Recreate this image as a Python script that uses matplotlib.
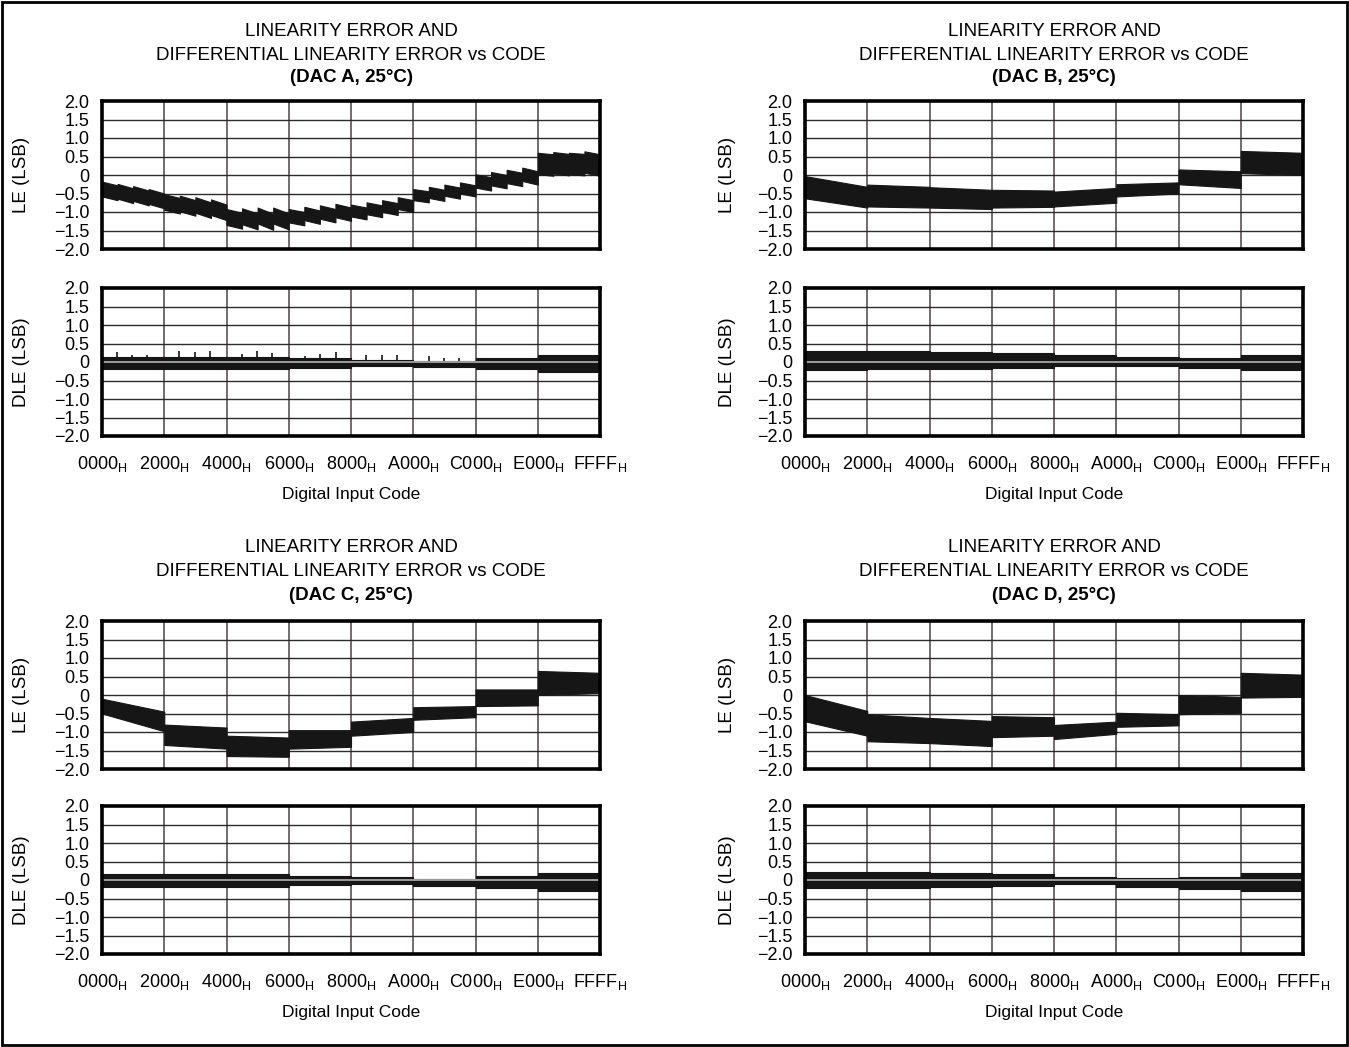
"""Linearity error / DLE vs code for four DAC channels, datasheet style."""

import matplotlib

matplotlib.use("Agg")

import matplotlib.pyplot as plt  # noqa: E402
from matplotlib.patches import Rectangle  # noqa: E402

plt.rcParams["font.family"] = ["Liberation Sans", "DejaVu Sans"]
plt.rcParams["mathtext.default"] = "regular"
NARROW = ["Liberation Sans Narrow", "Liberation Sans", "DejaVu Sans"]

# code segments (each 0x2000 wide); bands jump at the segment edges
SEG_STARTS = [0x0000, 0x2000, 0x4000, 0x6000, 0x8000, 0xA000, 0xC000, 0xE000]
SEG_ENDS = [0x2000, 0x4000, 0x6000, 0x8000, 0xA000, 0xC000, 0xE000, 0xFFFF]

X_TICKS = [0x0000, 0x2000, 0x4000, 0x6000, 0x8000, 0xA000, 0xC000, 0xE000, 0xFFFF]
X_TICK_LABELS = ["0000", "2000", "4000", "6000", "8000", "A000", "C000", "E000", "FFFF"]
Y_TICKS = [-2.0, -1.5, -1.0, -0.5, 0.0, 0.5, 1.0, 1.5, 2.0]
Y_TICK_LABELS = ["\u22122.0", "\u22121.5", "\u22121.0", "\u22120.5", "0", "0.5", "1.0", "1.5", "2.0"]

DACS = ["A", "B", "C", "D"]

# DAC A LE shows a mild sawtooth: four teeth per segment (0x800 each)
A_TOOTH_STARTS = [0x800 * i for i in range(32)]
A_TOOTH_ENDS = [0x800 * (i + 1) for i in range(31)] + [0xFFFF]
A_TOOTH_TOP_START = [-0.18, -0.24, -0.30, -0.38, -0.52, -0.56, -0.60, -0.66,
                     -0.92, -0.90, -0.88, -0.88, -0.92, -0.86, -0.82, -0.78,
                     -0.80, -0.74, -0.68, -0.60, -0.38, -0.32, -0.26, -0.20,
                     0.02, 0.08, 0.14, 0.20, 0.60, 0.62, 0.60, 0.64]
A_TOOTH_TOP_END = [-0.28, -0.36, -0.42, -0.50, -0.62, -0.68, -0.74, -0.80,
                   -1.02, -1.04, -1.05, -1.04, -1.00, -0.96, -0.92, -0.88,
                   -0.88, -0.82, -0.76, -0.68, -0.44, -0.40, -0.34, -0.28,
                   -0.06, 0.00, 0.06, 0.10, 0.56, 0.57, 0.57, 0.56]
A_SEG_BAND = [0.40, 0.42, 0.43, 0.36, 0.32, 0.30, 0.36, 0.58]

# LE envelope (LSB) for B, C, D: top/bottom at start and end of each segment
LE_TOP_START = {
    "B": [-0.03, -0.26, -0.33, -0.40, -0.45, -0.25, 0.15, 0.65],
    "C": [-0.10, -0.80, -1.10, -0.95, -0.72, -0.33, 0.15, 0.65],
    "D": [0.00, -0.52, -0.62, -0.57, -0.81, -0.48, 0.00, 0.60],
}
LE_TOP_END = {
    "B": [-0.32, -0.32, -0.40, -0.42, -0.35, -0.20, 0.10, 0.60],
    "C": [-0.45, -0.88, -1.15, -0.95, -0.62, -0.30, 0.15, 0.60],
    "D": [-0.43, -0.62, -0.70, -0.60, -0.72, -0.52, -0.05, 0.55],
}
LE_BOT_START = {
    "B": [-0.63, -0.85, -0.88, -0.88, -0.85, -0.58, -0.25, 0.05],
    "C": [-0.50, -1.35, -1.65, -1.45, -1.10, -0.67, -0.30, 0.00],
    "D": [-0.71, -1.25, -1.30, -1.14, -1.19, -0.86, -0.52, -0.07],
}
LE_BOT_END = {
    "B": [-0.88, -0.88, -0.92, -0.86, -0.75, -0.50, -0.35, 0.00],
    "C": [-0.98, -1.45, -1.67, -1.40, -1.00, -0.60, -0.28, 0.05],
    "D": [-1.10, -1.30, -1.38, -1.10, -1.05, -0.82, -0.48, -0.05],
}

# DLE envelope per segment (LSB)
DLE_TOP = {
    "A": [0.14, 0.14, 0.13, 0.12, 0.05, 0.03, 0.11, 0.18],
    "B": [0.30, 0.30, 0.27, 0.25, 0.20, 0.13, 0.10, 0.20],
    "C": [0.17, 0.17, 0.15, 0.12, 0.08, 0.04, 0.12, 0.18],
    "D": [0.22, 0.22, 0.20, 0.16, 0.09, 0.05, 0.09, 0.18],
}
DLE_BOT = {
    "A": [-0.20, -0.20, -0.18, -0.16, -0.10, -0.13, -0.18, -0.28],
    "B": [-0.22, -0.20, -0.18, -0.15, -0.12, -0.10, -0.15, -0.22],
    "C": [-0.20, -0.20, -0.20, -0.14, -0.10, -0.16, -0.22, -0.30],
    "D": [-0.22, -0.22, -0.20, -0.16, -0.12, -0.18, -0.24, -0.30],
}

# isolated DLE spikes visible on DAC A
DLE_A_SPIKE_CODES = [1930, 4010, 5940, 10170, 12250, 14180, 18400, 20440, 22420,
                     26690, 28680, 30760, 34780, 36810, 38840, 43010, 45050, 47030]
DLE_A_SPIKE_HEIGHTS = [0.28, 0.20, 0.20, 0.30, 0.27, 0.30, 0.22, 0.30, 0.25,
                       0.15, 0.22, 0.27, 0.18, 0.20, 0.18, 0.15, 0.12, 0.10]

W, H = 1349, 1047
COL_LEFT = [102, 805]
AX_W = 498
AX_H = 148
LE_TOP_PX = [101, 621]
DLE_TOP_PX = [288, 806]
TITLE_Y = [[31, 55, 78], [548, 572, 596]]
XLABEL_Y = [494, 1013]
YLABEL_X = [22, 727]

BAND = "#161616"


def rect(left, top):
    return [left / W, 1 - (top + AX_H) / H, AX_W / W, AX_H / H]


def style_axes(ax):
    ax.set_xlim(0, 0xFFFF)
    ax.set_ylim(-2, 2)
    ax.set_yticks(Y_TICKS)
    ax.set_yticklabels(Y_TICK_LABELS, family=NARROW, fontsize=13)
    ax.set_xticks(X_TICKS)
    for x in X_TICKS[1:-1]:
        ax.axvline(x, color="#6b5f5f", lw=1.3, zorder=1)
    for y in Y_TICKS[1:-1]:
        ax.axhline(y, color="#2b2b2b", lw=1.0, zorder=1)
    for sp in ax.spines.values():
        sp.set_linewidth(2.6)
        sp.set_zorder(5)
    ax.tick_params(length=0)
    ax.tick_params(axis="y", pad=9)
    ax.tick_params(axis="x", pad=13)


def band(starts, ends, v_start, v_end):
    xs, ys = [], []
    for i in range(len(starts)):
        xs += [starts[i], ends[i]]
        ys += [v_start[i], v_end[i]]
    return xs, ys


fig = plt.figure(figsize=(W / 100, H / 100), dpi=100)

for k, dac in enumerate(DACS):
    row, col = divmod(k, 2)
    left = COL_LEFT[col]
    cx = (left + AX_W / 2) / W

    # titles
    ty = TITLE_Y[row]
    fig.text(cx, 1 - ty[0] / H, "LINEARITY ERROR AND", ha="center", va="center", fontsize=13.5)
    fig.text(cx, 1 - ty[1] / H, "DIFFERENTIAL LINEARITY ERROR vs CODE",
             ha="center", va="center", fontsize=13.5)
    fig.text(cx, 1 - ty[2] / H, f"(DAC {dac}, 25\u00b0C)", ha="center", va="center",
             fontsize=13.5, fontweight="bold")

    # LE
    ax1 = fig.add_axes(rect(left, LE_TOP_PX[row]))
    style_axes(ax1)
    ax1.set_xticklabels([])
    if dac == "A":
        xs, top = band(A_TOOTH_STARTS, A_TOOTH_ENDS, A_TOOTH_TOP_START, A_TOOTH_TOP_END)
        widths = [A_SEG_BAND[i // 4] for i in range(32) for _ in range(2)]
        bot = [t - w for t, w in zip(top, widths)]
    else:
        xs, top = band(SEG_STARTS, SEG_ENDS, LE_TOP_START[dac], LE_TOP_END[dac])
        _, bot = band(SEG_STARTS, SEG_ENDS, LE_BOT_START[dac], LE_BOT_END[dac])
    ax1.fill_between(xs, bot, top, color=BAND, lw=0.8, zorder=3)

    # DLE
    ax2 = fig.add_axes(rect(left, DLE_TOP_PX[row]))
    style_axes(ax2)
    ax2.set_xticklabels([f"{s}$_{{H}}$" for s in X_TICK_LABELS], family=NARROW, fontsize=13)
    xs, top = band(SEG_STARTS, SEG_ENDS, DLE_TOP[dac], DLE_TOP[dac])
    _, bot = band(SEG_STARTS, SEG_ENDS, DLE_BOT[dac], DLE_BOT[dac])
    ax2.fill_between(xs, bot, top, color=BAND, lw=0.8, zorder=3)
    if dac == "A":
        ax2.vlines(DLE_A_SPIKE_CODES, 0, DLE_A_SPIKE_HEIGHTS, color=BAND, lw=1.2, zorder=3)
    ax2.axhline(0, color="#9c9c9c", lw=1.4, zorder=4)

    # axis labels
    lx = YLABEL_X[col] / W
    fig.text(lx, 1 - (LE_TOP_PX[row] + AX_H / 2) / H, "LE (LSB)", rotation=90,
             ha="center", va="center", fontsize=13.5)
    fig.text(lx, 1 - (DLE_TOP_PX[row] + AX_H / 2) / H, "DLE (LSB)", rotation=90,
             ha="center", va="center", fontsize=13.5)
    fig.text(cx, 1 - XLABEL_Y[row] / H, "Digital Input Code", ha="center", va="center",
             fontsize=12.5)

fig.add_artist(Rectangle((0.0015, 0.002), 0.997, 0.996, transform=fig.transFigure,
                         fill=False, lw=2, ec="black"))

fig.savefig("out.png", dpi=100)
